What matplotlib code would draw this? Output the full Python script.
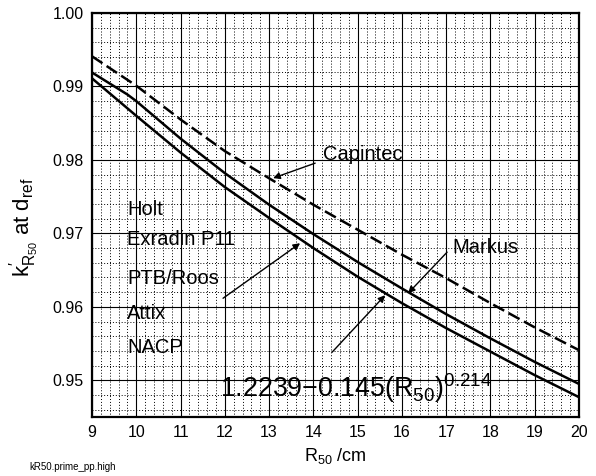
import numpy as np
import matplotlib
matplotlib.use("Agg")
import matplotlib.pyplot as plt
from matplotlib.ticker import MultipleLocator, FormatStrFormatter

plt.rcParams['font.family'] = ['Liberation Sans', 'DejaVu Sans']
plt.rcParams['mathtext.fontset'] = 'custom'
plt.rcParams['mathtext.rm'] = 'Liberation Sans'
plt.rcParams['mathtext.it'] = 'Liberation Sans:italic'

# values
r50 = [9, 10, 11, 12, 13, 14, 15, 16, 17, 18, 19, 20]
k_capintec = [0.9941, 0.9901, 0.9855, 0.9812, 0.9775, 0.9739, 0.9705, 0.9671, 0.9639, 0.9605, 0.9572, 0.9541]
k_wellguarded = [0.9911, 0.9860, 0.9810, 0.9763, 0.9721, 0.9680, 0.9641, 0.9605, 0.9571, 0.9539, 0.9507, 0.9477]
r50_markus = [9, 9.8, 10, 11, 12, 13, 14, 15, 16, 17, 18, 19, 20]
k_markus = [0.9919, 0.9889, 0.9880, 0.9829, 0.9782, 0.9739, 0.9699, 0.9661, 0.9625, 0.9590, 0.9557, 0.9525, 0.9495]

chamber_names = ["Holt", "Exradin P11", "PTB/Roos", "Attix", "NACP"]
name_y = [0.9733, 0.9691, 0.9639, 0.9591, 0.9545]

fig = plt.figure(figsize=(5.96, 4.76), dpi=100)
ax = fig.add_axes([0.1544, 0.1239, 0.8171, 0.8488])

ax.plot(r50, k_capintec, color='k', lw=1.8, ls=(0, (5, 2)))
ax.plot(r50_markus, k_markus, color='k', lw=1.8)
ax.plot(r50, k_wellguarded, color='k', lw=1.8)

ax.set_xlim(9, 20)
ax.set_ylim(0.945, 1.0)
ax.xaxis.set_major_locator(MultipleLocator(1))
ax.xaxis.set_minor_locator(MultipleLocator(0.2))
ax.yaxis.set_major_locator(MultipleLocator(0.01))
ax.yaxis.set_minor_locator(MultipleLocator(0.002))
ax.yaxis.set_major_formatter(FormatStrFormatter('%.2f'))
ax.grid(which='major', color='k', lw=0.8, ls='-')
ax.grid(which='minor', color='k', lw=0.7, ls=(0, (1, 2)))
ax.set_axisbelow(True)
ax.tick_params(which='both', length=0, labelsize=11.5, pad=6)
for s in ax.spines.values():
    s.set_linewidth(1.6)

ax.set_xlabel(r"R$_{50}$ /cm", fontsize=13, labelpad=4)
ax.set_ylabel(r"k$^{\prime}_{\mathrm{R}_{50}}$ at d$_{\mathrm{ref}}$", fontsize=16)
ax.yaxis.set_label_coords(-0.103, 0.47)

for nm, yy in zip(chamber_names, name_y):
    ax.text(9.79, yy, nm, fontsize=14.5, va='center', ha='left')

ax.text(14.22, 0.9808, "Capintec", fontsize=14.5, va='center', ha='left')
ax.text(17.13, 0.9681, "Markus", fontsize=14.5, va='center', ha='left')
ax.text(11.89, 0.9477, r"1.2239$-$0.145(R$_{50}$)$^{0.214}$", fontsize=19.3, va='baseline', ha='left')

arr = dict(arrowstyle='-|>', color='k', lw=1.0, mutation_scale=10, shrinkA=0, shrinkB=0)
ax.annotate('', xy=(13.09, 0.97752), xytext=(14.04, 0.97956), arrowprops=arr)
ax.annotate('', xy=(16.14, 0.96185), xytext=(17.02, 0.96744), arrowprops=arr)
ax.annotate('', xy=(13.70, 0.96866), xytext=(11.96, 0.96117), arrowprops=arr)
ax.annotate('', xy=(15.62, 0.96158), xytext=(14.42, 0.95381), arrowprops=arr)

fig.text(0.05, 0.019, "kR50.prime_pp.high", fontsize=7, va='center')

fig.savefig("out.png", dpi=100)
